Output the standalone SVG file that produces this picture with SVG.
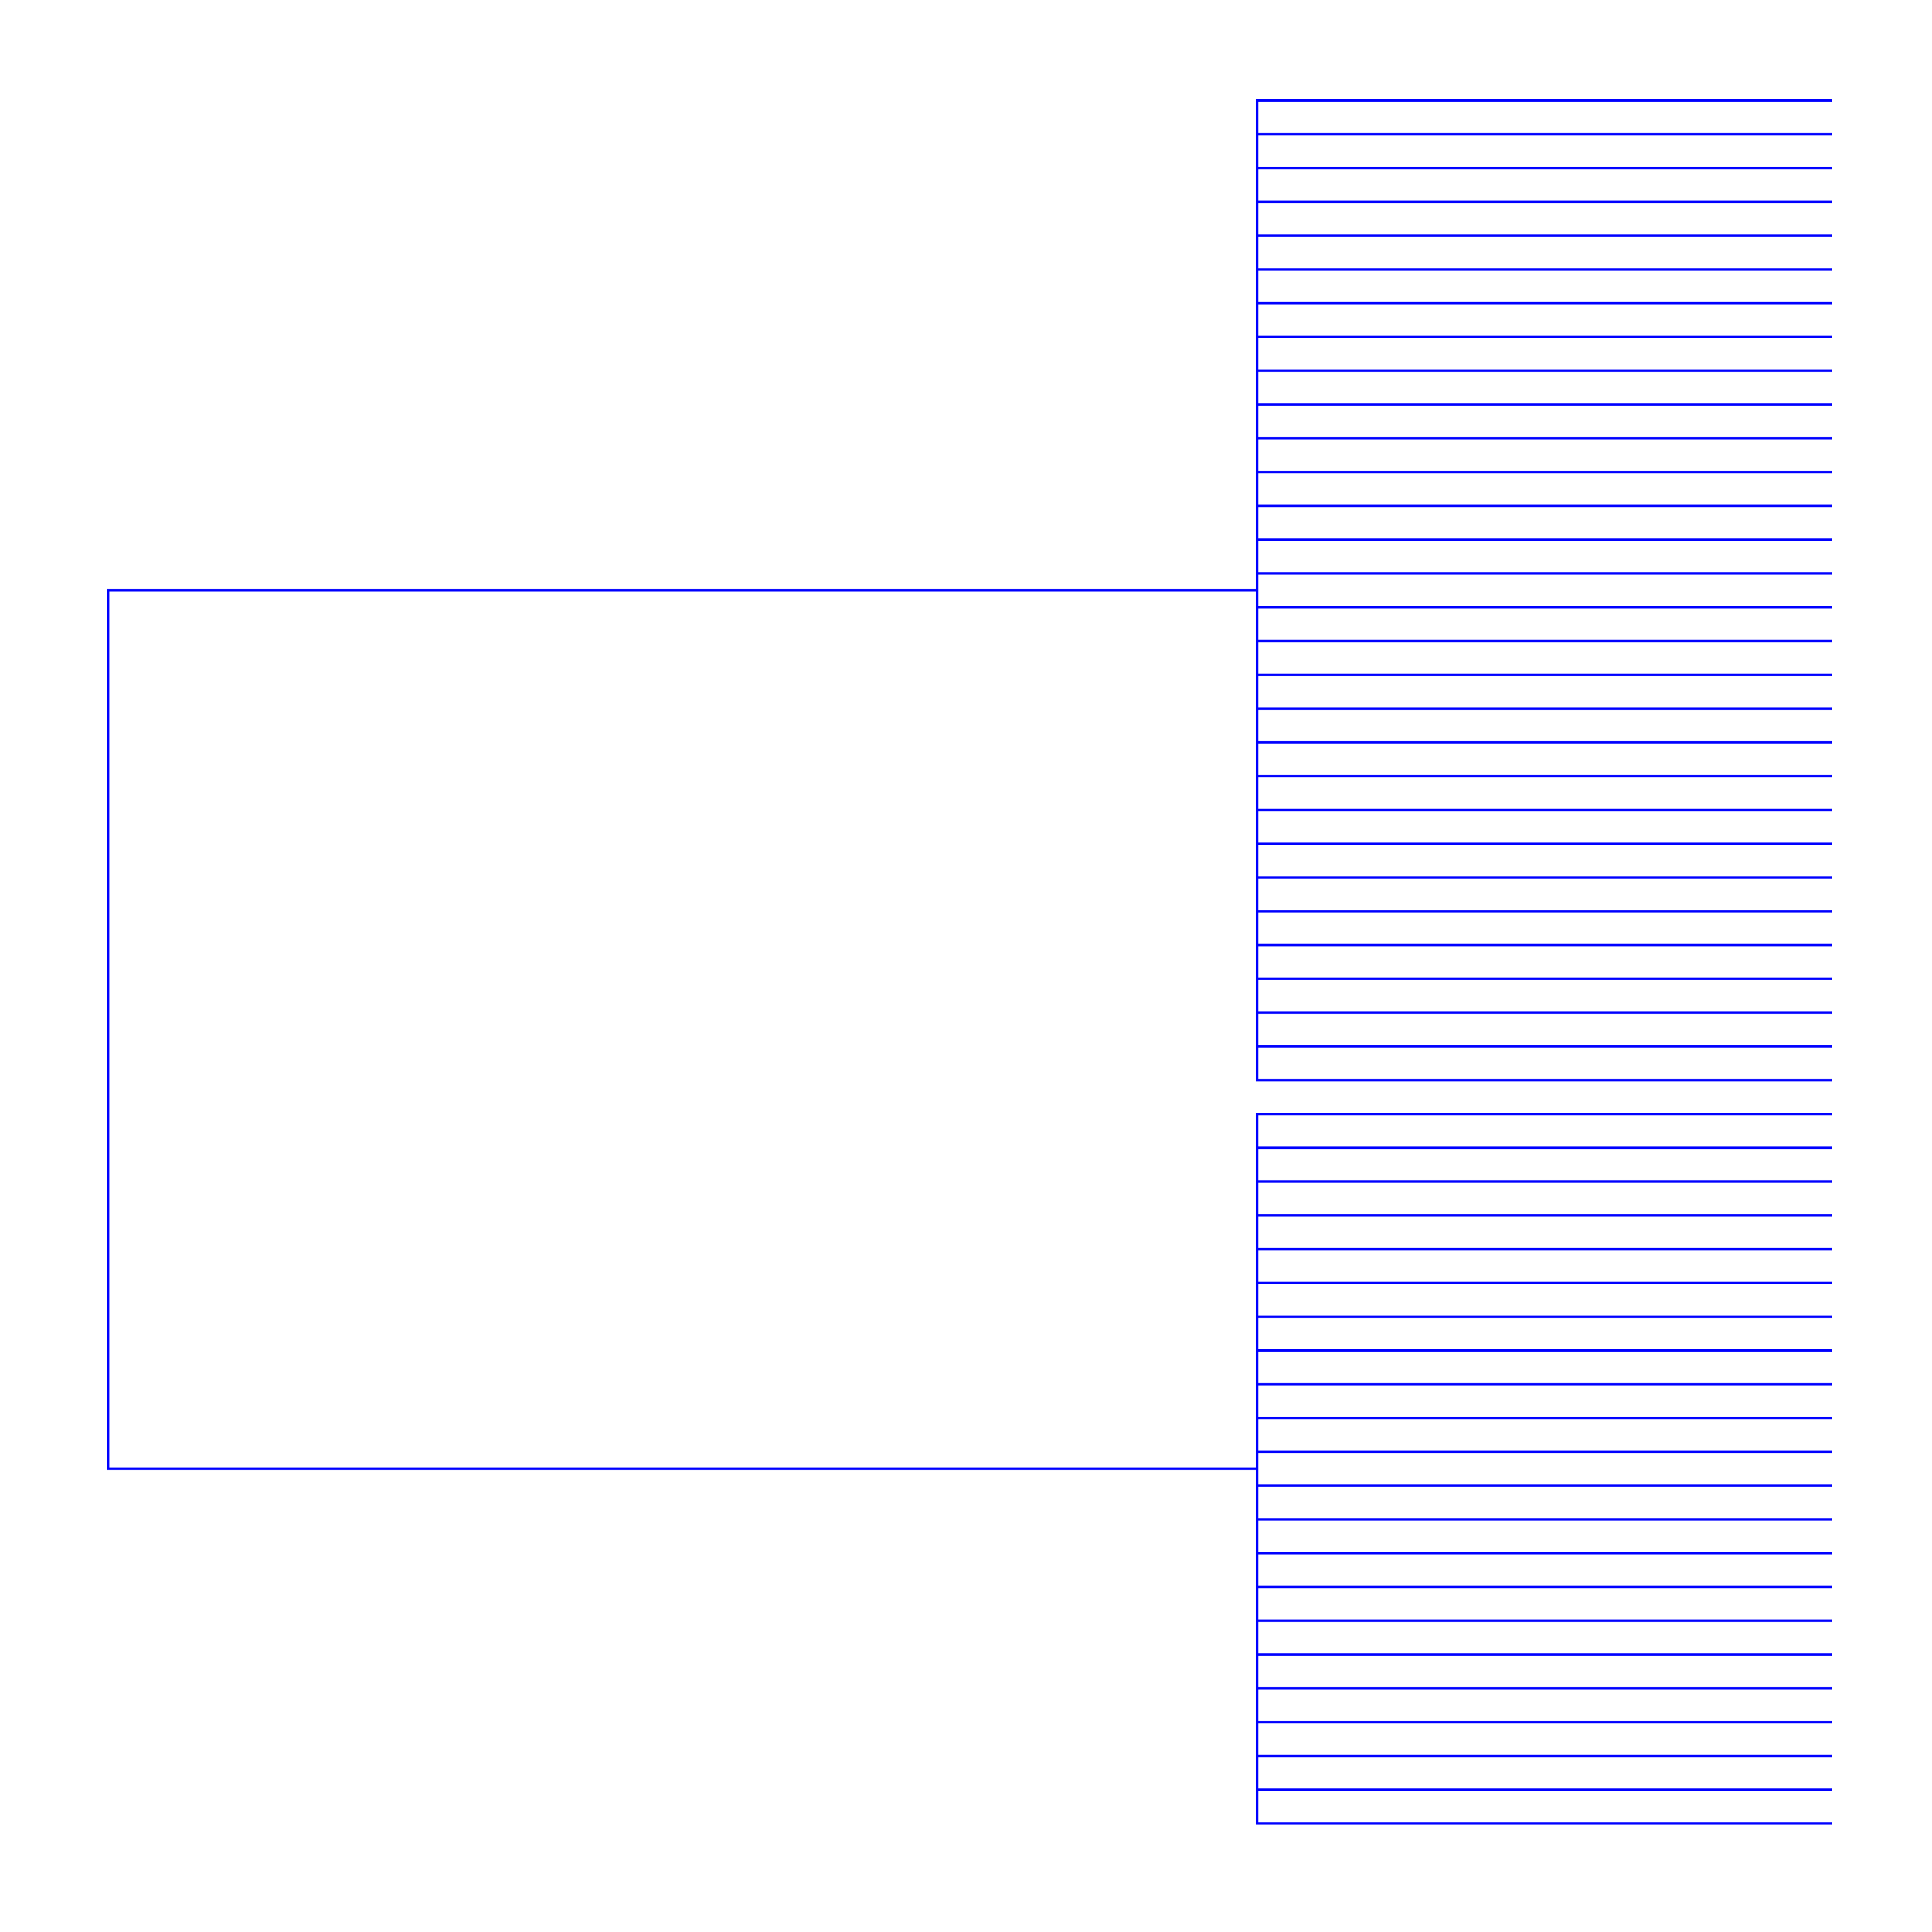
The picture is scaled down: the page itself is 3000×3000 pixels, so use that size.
<svg xmlns="http://www.w3.org/2000/svg" width="3000" height="3000" viewBox="0 0 3000 3000">
<style>
.c{fill:none;stroke:#0000ff;stroke-width:3.8;stroke-linejoin:miter;stroke-linecap:butt}
</style>
<rect width="3000" height="3000" fill="#ffffff"/>
<g id="connectors" class="c">
<path id="root" d="M1952 916.67H168V2280.63H1952"/>
<g id="cluster-top">
<path d="M2845 156H1952V1677.34H2845"/>
<path d="M1952 208.46H2845M1952 260.92H2845M1952 313.38H2845M1952 365.84H2845M1952 418.3H2845M1952 470.76H2845M1952 523.22H2845M1952 575.68H2845M1952 628.14H2845M1952 680.6H2845M1952 733.06H2845M1952 785.52H2845M1952 837.98H2845M1952 890.44H2845M1952 942.9H2845M1952 995.36H2845M1952 1047.82H2845M1952 1100.28H2845M1952 1152.74H2845M1952 1205.2H2845M1952 1257.66H2845M1952 1310.12H2845M1952 1362.58H2845M1952 1415.04H2845M1952 1467.5H2845M1952 1519.96H2845M1952 1572.42H2845M1952 1624.88H2845"/>
</g>
<g id="cluster-bottom">
<path d="M2845 1729.8H1952V2831.46H2845"/>
<path d="M1952 1782.26H2845M1952 1834.72H2845M1952 1887.18H2845M1952 1939.64H2845M1952 1992.1H2845M1952 2044.56H2845M1952 2097.02H2845M1952 2149.48H2845M1952 2201.94H2845M1952 2254.4H2845M1952 2306.86H2845M1952 2359.32H2845M1952 2411.78H2845M1952 2464.24H2845M1952 2516.7H2845M1952 2569.16H2845M1952 2621.62H2845M1952 2674.08H2845M1952 2726.54H2845M1952 2779H2845"/>
</g>
</g>
</svg>
